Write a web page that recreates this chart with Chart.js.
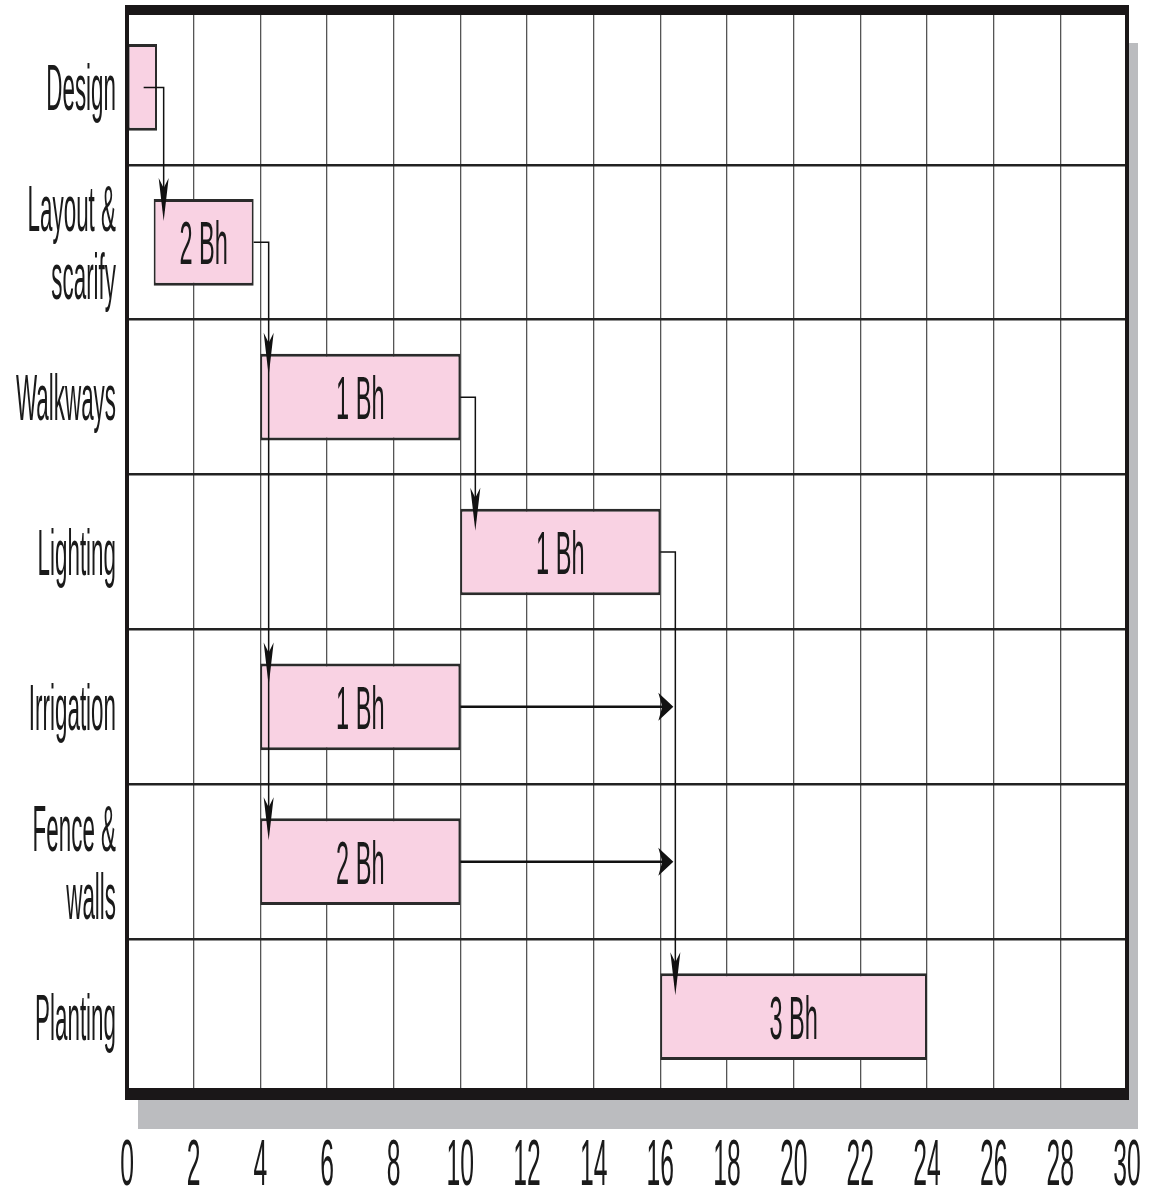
<!DOCTYPE html>
<html>
<head>
<meta charset="utf-8">
<script src="https://cdn.jsdelivr.net/npm/chart.js@4.4.1/dist/chart.umd.min.js"></script>
<style>
  body { margin: 0; background: #fff; }
  canvas { display: block; }
</style>
</head>
<body>
<canvas id="gantt" width="1154" height="1191"></canvas>
<script>
// tasks, top to bottom
const tasks = ['Design', ['Layout &', 'scarify'], 'Walkways', 'Lighting', 'Irrigation', ['Fence &', 'walls'], 'Planting'];
const starts = [0, 0.8, 4, 10, 4, 4, 16];
const ends = [0.9, 3.8, 10, 16, 10, 10, 24];
const crews = ['', '2 Bh', '1 Bh', '1 Bh', '1 Bh', '2 Bh', '3 Bh'];
const xTicks = [0, 2, 4, 6, 8, 10, 12, 14, 16, 18, 20, 22, 24, 26, 28, 30];

// precedence links: from task -> to tasks, line leaves at startX and drops at turnX
const linkFrom = [0, 1, 2, 3];
const linkTo = [[1], [2, 4, 5], [3], [6]];
const linkStartX = [0.5, 3.8, 10, 16];
const linkTurnX = [1.1, 4.25, 10.45, 16.45];
// slack arrows running right from a bar end
const slackFrom = [4, 5];
const slackTo = [16.45, 16.45];

const FONT = '"Liberation Sans", Arial, sans-serif';

const stretchText = (ctx, text, x, y, sx, align) => {
    ctx.save();
    ctx.translate(x, y);
    ctx.scale(sx, 1);
    ctx.textAlign = align;
    ctx.fillText(text, 0, 0);
    ctx.restore();
}

const arrowDown = (ctx, x, y) => {
    ctx.beginPath();
    ctx.moveTo(x, y);
    ctx.lineTo(x - 5, y - 43);
    ctx.lineTo(x, y - 33);
    ctx.lineTo(x + 5, y - 43);
    ctx.closePath();
    ctx.fill();
}

const arrowRight = (ctx, x, y) => {
    ctx.beginPath();
    ctx.moveTo(x, y);
    ctx.lineTo(x - 15, y - 14);
    ctx.lineTo(x - 11, y);
    ctx.lineTo(x - 15, y + 14);
    ctx.closePath();
    ctx.fill();
}

const backdrop = {
    id: 'backdrop',
    beforeDraw(chart) {
        const { ctx, chartArea: a } = chart;
        ctx.save();
        ctx.fillStyle = '#fff';
        ctx.fillRect(0, 0, chart.width, chart.height);
        ctx.fillStyle = '#bbbcbf';
        ctx.fillRect(a.left + 11, a.top + 33, a.right - a.left, a.bottom - a.top + 2);
        ctx.fillStyle = '#fff';
        ctx.fillRect(a.left, a.top, a.right - a.left, a.bottom - a.top);
        ctx.restore();
    }
};

const overlay = {
    id: 'overlay',
    afterDatasetsDraw(chart) {
        const { ctx } = chart;
        const xs = chart.scales.x;
        const bars = chart.getDatasetMeta(0).data;
        const top = i => bars[i].y - bars[i].height / 2;
        ctx.save();
        ctx.strokeStyle = '#111';
        ctx.fillStyle = '#111';

        // precedence links
        ctx.lineWidth = 1.5;
        linkFrom.forEach((f, k) => {
            const y0 = bars[f].y;
            const x0 = xs.getPixelForValue(linkStartX[k]);
            const xt = xs.getPixelForValue(linkTurnX[k]);
            const tips = linkTo[k].map(t => top(t) + 22);
            ctx.beginPath();
            ctx.moveTo(x0, y0);
            ctx.lineTo(xt, y0);
            ctx.lineTo(xt, Math.max(...tips) - 10);
            ctx.stroke();
            tips.forEach(ty => arrowDown(ctx, xt, ty));
        });

        // slack arrows
        ctx.lineWidth = 2.5;
        slackFrom.forEach((f, k) => {
            const y0 = bars[f].y;
            const x0 = xs.getPixelForValue(ends[f]);
            const xt = xs.getPixelForValue(slackTo[k]) - 2;
            ctx.beginPath();
            ctx.moveTo(x0, y0);
            ctx.lineTo(xt - 10, y0);
            ctx.stroke();
            arrowRight(ctx, xt, y0);
        });

        // crew labels in the bars
        ctx.fillStyle = '#1a1a1a';
        ctx.font = '62px ' + FONT;
        bars.forEach((b, i) => {
            if (!crews[i]) return;
            const cx = (xs.getPixelForValue(starts[i]) + xs.getPixelForValue(ends[i])) / 2;
            stretchText(ctx, crews[i], cx, b.y + 22, 0.38, 'center');
        });
        ctx.restore();
    },
    afterDraw(chart) {
        const { ctx, chartArea: a } = chart;
        const xs = chart.scales.x;
        const ys = chart.scales.y;
        ctx.save();

        // frame: heavy top and bottom, lighter sides
        ctx.fillStyle = '#1a1718';
        ctx.fillRect(a.left - 2, a.top - 5, a.right - a.left + 4, 10);
        ctx.fillRect(a.left - 2, a.bottom - 6, a.right - a.left + 4, 12);
        ctx.fillRect(a.left - 2, a.top, 4, a.bottom - a.top);
        ctx.fillRect(a.right - 2, a.top, 4, a.bottom - a.top);

        // task names
        ctx.fillStyle = '#1a1a1a';
        ctx.font = '64px ' + FONT;
        tasks.forEach((t, i) => {
            const cy = ys.getPixelForValue(i);
            const lines = Array.isArray(t) ? t : [t];
            const gap = 68;
            lines.forEach((ln, j) => {
                const ly = cy + (j - (lines.length - 1) / 2) * gap;
                stretchText(ctx, ln, a.left - 11, ly + 23, 0.35, 'right');
            });
        });

        // week ticks
        ctx.font = '65px ' + FONT;
        xTicks.forEach(v => {
            stretchText(ctx, String(v), xs.getPixelForValue(v), a.bottom + 91, 0.38, 'center');
        });
        ctx.restore();
    }
};

new Chart(document.getElementById('gantt'), {
    type: 'bar',
    data: {
        labels: tasks,
        datasets: [{
            data: tasks.map((t, i) => [starts[i], ends[i]]),
            backgroundColor: '#f9d2e3',
            borderColor: '#2b2b2b',
            borderWidth: { top: 3, bottom: 3, left: 2, right: 2 },
            borderSkipped: false,
            barPercentage: 0.56,
            categoryPercentage: 1
        }]
    },
    options: {
        indexAxis: 'y',
        responsive: false,
        animation: false,
        layout: { padding: { left: 127, right: 27, top: 10, bottom: 97 } },
        plugins: { legend: { display: false }, tooltip: { enabled: false } },
        scales: {
            x: {
                type: 'linear',
                min: 0,
                max: 30,
                ticks: { stepSize: 2, display: false },
                grid: { color: '#555', lineWidth: 1.3, drawTicks: false },
                border: { display: false }
            },
            y: {
                ticks: { display: false },
                grid: { color: '#222', lineWidth: 2.5, drawTicks: false, offset: true },
                border: { display: false }
            }
        }
    },
    plugins: [backdrop, overlay]
});
</script>
</body>
</html>
